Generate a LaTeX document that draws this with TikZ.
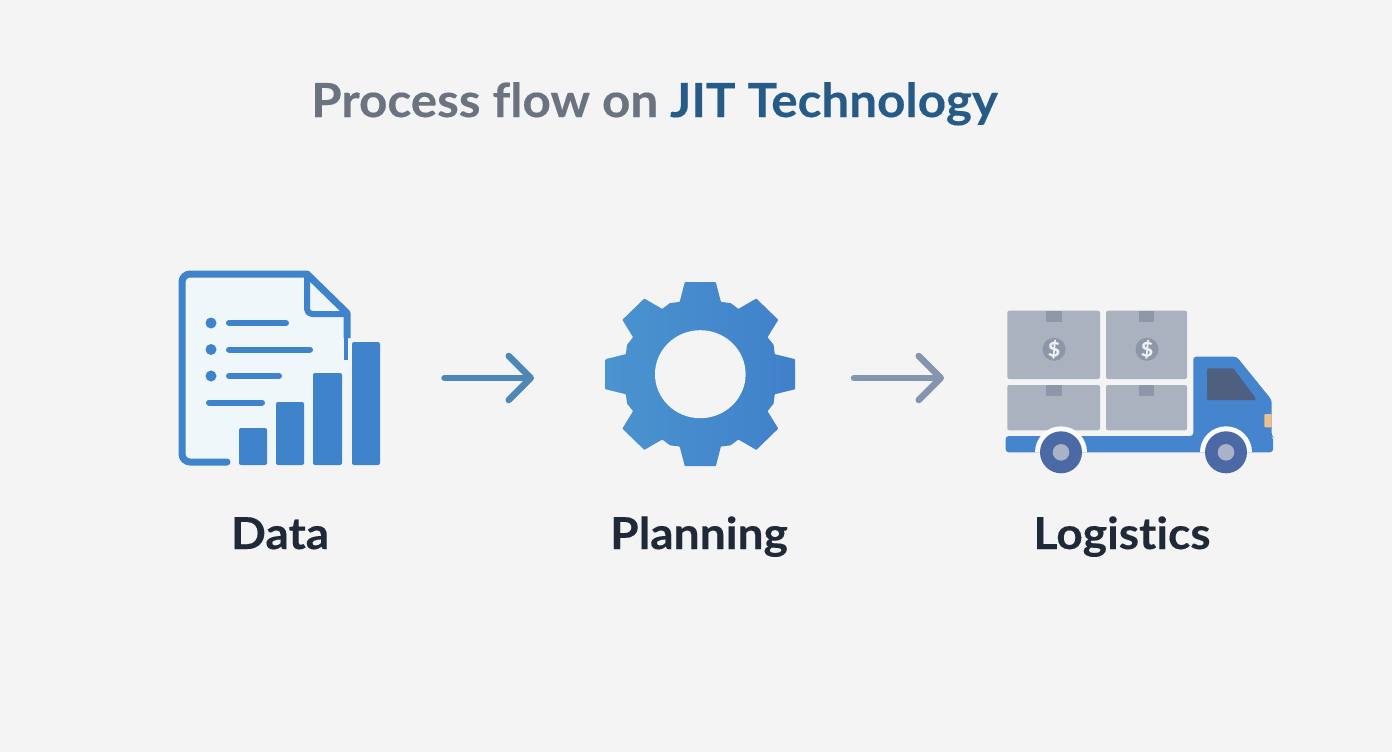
\documentclass[tikz,border=0pt]{standalone}
\usepackage{fontspec}
\setmainfont{Lato}[Ligatures=CommonOff,BoldFeatures={FakeStretch=1.05,FakeBold=0.25}]
\usetikzlibrary{arrows.meta}
\definecolor{bgc}{HTML}{F4F4F5}
\definecolor{iconblue}{HTML}{3F83CB}
\definecolor{docfill}{HTML}{F0F7FB}
\definecolor{gearL}{HTML}{4A94CF}
\definecolor{gearR}{HTML}{4180CA}
\definecolor{truckblue}{HTML}{4585CE}
\definecolor{boxc}{HTML}{A9B2BE}
\definecolor{tapec}{HTML}{8D97A8}
\definecolor{wheelc}{HTML}{4A69A5}
\definecolor{hubc}{HTML}{A9B2C6}
\definecolor{winc}{HTML}{4F5F80}
\definecolor{lampc}{HTML}{EDC08F}
\definecolor{arrA}{HTML}{4C87B5}
\definecolor{arrB}{HTML}{8496AE}
\definecolor{titleG}{HTML}{6B7280}
\definecolor{titleB}{HTML}{265A87}
\definecolor{labelc}{HTML}{1F2937}
\tikzset{
  iconbox/.style={inner sep=0pt,outer sep=0pt,minimum height=190pt},
  flowarrow/.style={line width=6.5pt,line cap=round,line join=round,-{Straight Barb[length=22pt,width=44pt,line width=6.5pt,round]}},
  docline/.style={draw=iconblue,line width=6pt,line cap=round},
  docdot/.style={fill=iconblue},
  bar/.style={fill=iconblue,rounded corners=2pt},
  parcel/.style={fill=boxc,rounded corners=2pt},
  tape/.style={fill=tapec},
  steplabel/.style={anchor=base,text=labelc,font=\fontsize{44}{48}\selectfont\bfseries},
  coin/.style={circle,fill=tapec,inner sep=0pt,minimum size=23pt,text=white!80!boxc,font=\fontsize{20}{21}\selectfont\bfseries},
}
\begin{document}
\begin{tikzpicture}[x=1pt,y=-1pt]
\fill[bgc] (0,0) rectangle (1392,752);
\useasboundingbox (0,0) rectangle (1392,752);
% title
\node[anchor=base west,inner sep=0pt,font=\fontsize{47}{50}\selectfont\bfseries] (title) at (311,117)
  {\textcolor{titleG}{Process flow on} \textcolor{titleB}{JIT Technology}};
% invisible anchors for connectors
\node[iconbox,minimum width=200pt] (dataicon) at (280,378) {};
\node[iconbox,minimum width=190pt] (gearicon) at (700,378) {};
\node[iconbox,minimum width=268pt] (truckicon) at (1140,378) {};
% Data icon
\fill[docfill,rounded corners=6pt] (182,274) -- (307,274) -- (347,313) -- (347,462) -- (182,462) -- cycle;
\draw[iconblue,line width=7pt,line join=round,line cap=round,rounded corners=8pt]
  (227,462) -- (182,462) -- (182,274) -- (307,274);
\draw[iconblue,line width=7pt,line join=round] (307,274) -- (347,313) -- (347,338);
\draw[iconblue,line width=6pt,line join=round,rounded corners=5pt] (307,274) -- (307,314) -- (347,314);
\draw[iconblue,line width=3.5pt] (345.8,336) -- (345.8,360);
\draw[docline] (229,323) -- (286,323);
\draw[docline] (229,349.5) -- (310,349.5);
\draw[docline] (229,376) -- (279,376);
\draw[docline] (209,402.5) -- (262,402.5);
\fill[docdot] (211,323) circle (5.5);
\fill[docdot] (211,349.5) circle (5.5);
\fill[docdot] (211,376) circle (5.5);
\fill[bar] (239,428) rectangle (267,465);
\fill[bar] (276,402) rectangle (304,465);
\fill[bar] (313,373) rectangle (342,465);
\fill[bar] (352,342) rectangle (380,465);
% Gear icon
\begin{scope}[shift={(700.3,374.2)},xscale=1.03]
\path[left color=gearL,right color=gearR,rounded corners=0.6pt]
  (-15.5:75) \foreach \k in {0,...,7} {
    -- ({\k*45-15.5}:75) -- ({\k*45-9.3}:93.2) -- ({\k*45+9.3}:93.2) -- ({\k*45+15.5}:75) -- ({\k*45+22.5}:77)
  } -- cycle;
\fill[bgc] (0,0) circle (44);
\end{scope}
% Truck icon
\fill[parcel] (1007.3,310.7) rectangle (1100,379);
\fill[parcel] (1106,310.7) rectangle (1187,379);
\fill[parcel] (1007.3,385) rectangle (1100,430.3);
\fill[parcel] (1106,385) rectangle (1187,430.3);
\fill[tape] (1045.7,310.7) rectangle (1062.3,322.3);
\fill[tape] (1138.7,310.7) rectangle (1154,322.3);
\fill[tape] (1045.7,385) rectangle (1062.3,396);
\fill[tape] (1138.7,385) rectangle (1154,396);
\node[coin] (coinA) at (1054,349.3) {\$};
\node[coin] (coinB) at (1147,349.3) {\$};
\fill[truckblue,rounded corners=3pt]
  (1005.7,436) -- (1193.3,436) -- (1193.3,356.7) -- (1236.7,356.7) -- (1271.7,400)
  -- (1271.7,436) -- (1273,437) -- (1273,452.3) -- (1005.7,452.3) -- cycle;
\fill[winc,rounded corners=1pt] (1207,368.3) -- (1233.3,368.3) -- (1255.7,398.3) -- (1255.7,400) -- (1207,400) -- cycle;
\fill[lampc,rounded corners=1pt] (1264.3,414) rectangle (1271.7,427.3);
\fill[white!60!bgc] (1035,452.3) arc[start angle=180,end angle=360,radius=26];
\fill[white!60!bgc] (1200,452.3) arc[start angle=180,end angle=360,radius=26];
\fill[wheelc] (1061,452.3) circle (21);
\fill[wheelc] (1226,452.3) circle (21);
\fill[hubc] (1061,452.3) circle (8.3);
\fill[hubc] (1226,452.3) circle (8.3);
% connectors
\draw[flowarrow,arrA,shorten <=64.5pt,shorten >=71pt] (dataicon.east) -- (gearicon.west);
\draw[flowarrow,arrB,shorten <=59pt,shorten >=62pt] (gearicon.east) -- (truckicon.west);
% labels
\node[steplabel] (datal) at (280,549) {Data};
\node[steplabel] (planl) at (699,549) {Planning};
\node[steplabel] (logl) at (1122,549) {Logistics};
\end{tikzpicture}
\end{document}
